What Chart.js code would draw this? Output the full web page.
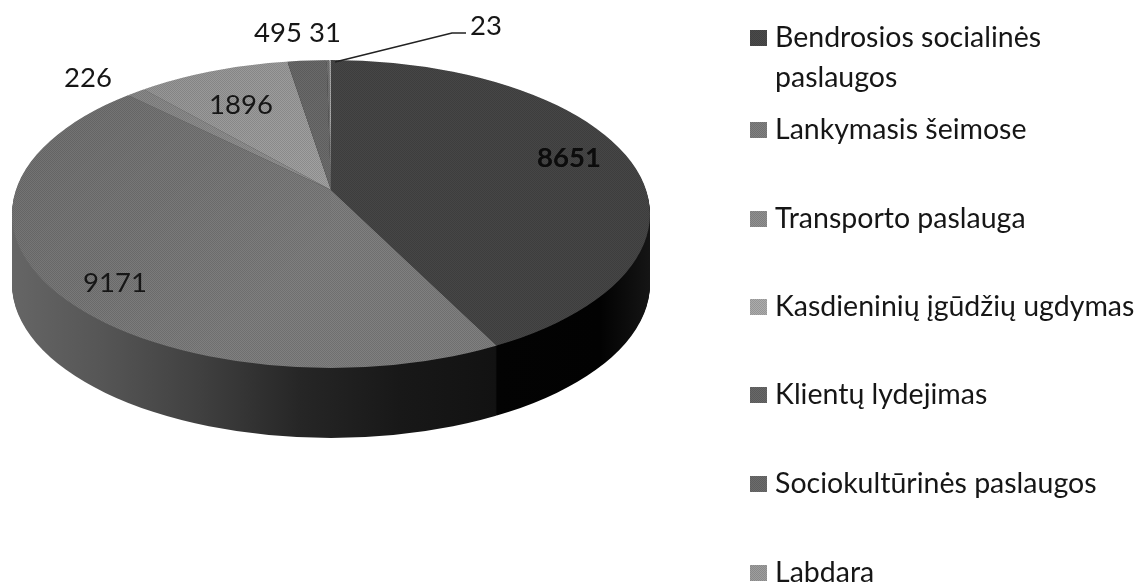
<!DOCTYPE html>
<html>
<head>
<meta charset="utf-8">
<title>Paslaugos</title>
<script src="https://cdn.jsdelivr.net/npm/chart.js@4"></script>
<style>
   html, body { margin: 0; background: #fff; }
   canvas { display: block; filter: blur(0.6px); }
</style>
</head>
<body>
<canvas id="pieChart" width="1140" height="585"></canvas>
<script>
// Values, clockwise from the top
const categories = [
   "Bendrosios socialinės\npaslaugos",
   "Lankymasis šeimose",
   "Transporto paslauga",
   "Kasdieninių įgūdžių ugdymas",
   "Klientų lydejimas",
   "Sociokultūrinės paslaugos",
   "Labdara",
];
const serviceCounts = [8651, 9171, 226, 1896, 495, 31, 23];
const sliceColors = ["#464646", "#808080", "#979797", "#a6a6a6", "#707070", "#7a7a7a", "#b4b4b4"];
const swatchColors = ["#4a4a4a", "#808080", "#909090", "#acacac", "#686868", "#6c6c6c", "#9e9e9e"];

// The tilted look: wedges start at the apex and get cut by the rim ellipse
const apex = { x: 331, y: 190 };
const rim = { x: 331, y: 214, rx: 319, ry: 154 };
const tilt = 0.5;
const depth = 70;

const labelSpots = [
   [569, 158], [115, 283], [88, 78], [241, 105], [278, 33], [325, 33], [486, 26],
];
const legendRows = [[38, 78], [130], [219], [307], [395], [484], [573]];

function rimPath(ctx, dy) {
   ctx.beginPath();
   ctx.ellipse(rim.x, rim.y + dy, rim.rx, rim.ry, 0, 0, Math.PI * 2);
}

function drawWedges(chart, dy, fills) {
   const ctx = chart.ctx;
   const arcs = chart.getDatasetMeta(0).data;
   ctx.save();
   rimPath(ctx, dy);
   ctx.clip();
   ctx.translate(apex.x, apex.y + dy);
   ctx.scale(1, tilt);
   ctx.translate(-arcs[0].x, -arcs[0].y);
   arcs.forEach((arc, i) => {
      const opts = arc.options;
      if (fills) {
         arc.options = Object.create(opts);
         arc.options.backgroundColor = fills[i];
      }
      ctx.save();
      arc.draw(ctx);
      ctx.restore();
      arc.options = opts;
   });
   ctx.restore();
}

function sideGradient(chart, stops) {
   const shift = chart.getDatasetMeta(0).data[0].x - apex.x;
   const grad = chart.ctx.createLinearGradient(shift + stops[0][0], 0, shift + stops[stops.length - 1][0], 0);
   const span = stops[stops.length - 1][0] - stops[0][0];
   stops.forEach((s) => grad.addColorStop((s[0] - stops[0][0]) / span, s[1]));
   return grad;
}

// Fine dot screen like the scanned original
function dotScreen(ctx) {
   const cell = document.createElement("canvas");
   cell.width = 2;
   cell.height = 2;
   const c = cell.getContext("2d");
   c.fillStyle = "rgba(0,0,0,0.13)";
   c.fillRect(0, 0, 1, 1);
   c.fillRect(1, 1, 1, 1);
   return ctx.createPattern(cell, "repeat");
}

const pie3d = {
   id: "pie3d",
   beforeDatasetsDraw(chart) {
      const ctx = chart.ctx;

      // Side wall: the same wedges stacked downwards
      const darkWall = sideGradient(chart, [[497, "#030303"], [600, "#020202"], [650, "#151515"]]);
      const midWall = sideGradient(chart, [[10, "#666666"], [100, "#565656"], [200, "#404040"], [300, "#262626"], [400, "#181818"], [497, "#121212"]]);
      const wallFills = [darkWall, midWall, midWall, midWall, midWall, midWall, midWall];
      for (let d = depth; d > 0; d--) {
         drawWedges(chart, d, wallFills);
      }

      // Top face
      drawWedges(chart, 0);

      ctx.save();
      rimPath(ctx, 0);
      ctx.clip();

      // darker patch on the upper left of the big slice
      const shade = ctx.createLinearGradient(40, 90, 260, 330);
      shade.addColorStop(0, "rgba(0,0,0,0.12)");
      shade.addColorStop(1, "rgba(0,0,0,0)");
      ctx.fillStyle = shade;
      ctx.fillRect(0, 0, 331, 400);

      ctx.fillStyle = dotScreen(ctx);
      ctx.fillRect(0, 0, 660, 400);
      ctx.restore();

      return false;
   },
   afterDraw(chart) {
      const ctx = chart.ctx;
      const screen = dotScreen(ctx);
      ctx.save();

      // leader line of the smallest slice
      ctx.strokeStyle = "#222";
      ctx.lineWidth = 1.6;
      ctx.beginPath();
      ctx.moveTo(335, 62);
      ctx.lineTo(452, 33);
      ctx.lineTo(466, 33);
      ctx.stroke();

      // value labels
      ctx.font = "27.5px Lato";
      ctx.fillStyle = "#161616";
      ctx.textAlign = "center";
      ctx.textBaseline = "middle";
      serviceCounts.forEach((v, i) => {
         ctx.fillText(String(v), labelSpots[i][0], labelSpots[i][1]);
      });

      // the first label is printed heavier on the dark slice
      ctx.fillStyle = "#0c0c0c";
      ctx.font = "bold 27.5px Lato";
      ctx.fillText(String(serviceCounts[0]), labelSpots[0][0], labelSpots[0][1]);

      // legend
      ctx.font = "28.5px Lato";
      ctx.textAlign = "left";
      categories.forEach((name, i) => {
         const rows = legendRows[i];
         ctx.fillStyle = swatchColors[i];
         ctx.fillRect(750, rows[0] - 8, 17, 16);
         ctx.fillStyle = screen;
         ctx.fillRect(750, rows[0] - 8, 17, 16);
         ctx.fillStyle = "#161616";
         name.split("\n").forEach((line, j) => {
            ctx.fillText(line, 775, rows[j]);
         });
      });
      ctx.restore();
   },
};

new Chart(document.getElementById("pieChart").getContext("2d"), {
   type: "pie",
   data: {
      labels: categories,
      datasets: [
         {
            data: serviceCounts,
            backgroundColor: sliceColors,
            borderWidth: 0,
            radius: 420,
         },
      ],
   },
   options: {
      responsive: false,
      animation: false,
      plugins: {
         legend: { display: false },
         tooltip: { enabled: false },
      },
   },
   plugins: [pie3d],
});
</script>
</body>
</html>
